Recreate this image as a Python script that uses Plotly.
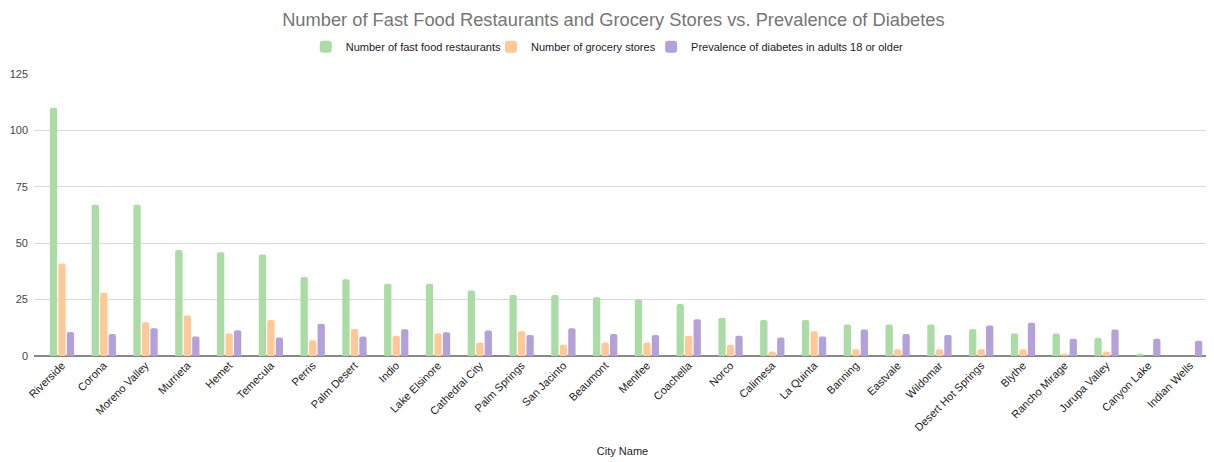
import plotly.graph_objects as go

cities = ["Riverside", "Corona", "Moreno Valley", "Murrieta", "Hemet", "Temecula", "Perris",
          "Palm Desert", "Indio", "Lake Elsinore", "Cathedral City", "Palm Springs", "San Jacinto",
          "Beaumont", "Menifee", "Coachella", "Norco", "Calimesa", "La Quinta", "Banning",
          "Eastvale", "Wildomar", "Desert Hot Springs", "Blythe", "Rancho Mirage", "Jurupa Valley",
          "Canyon Lake", "Indian Wells"]
fast_food = [110, 67, 67, 47, 46, 45, 35, 34, 32, 32, 29, 27, 27, 26, 25, 23, 17, 16, 16, 14,
             14, 14, 12, 10, 10, 8, 1, 0]
grocery = [41, 28, 15, 18, 10, 16, 7, 12, 9, 10, 6, 11, 5, 6, 6, 9, 5, 2, 11, 3,
           3, 3, 3, 3, 1, 2, 0, 0]
diabetes = [10.6, 9.8, 12.3, 8.6, 11.4, 8.2, 14.3, 8.6, 11.9, 10.5, 11.3, 9.3, 12.3, 9.8, 9.3,
            16.3, 9.0, 8.2, 8.6, 11.7, 9.8, 9.3, 13.5, 14.7, 7.7, 11.7, 7.7, 6.8]
y_ticks = [0, 25, 50, 75, 100, 125]

series = [
    ("Number of fast food restaurants", fast_food, "#abdca5", "legend", 0.2309),
    ("Number of grocery stores", grocery, "#ffc897", "legend2", 0.3883),
    ("Prevalence of diabetes in adults 18 or older", diabetes, "#b5a1d9", "legend3", 0.5243),
]

fig = go.Figure()
legend_layouts = {}
for name, vals, color, leg, lx in series:
    fig.add_trace(go.Bar(
        x=cities, y=vals, name=name, legend=leg,
        marker=dict(color=color, line=dict(width=0), cornerradius=2),
        hovertemplate="%{x}: %{y}<extra>" + name + "</extra>",
    ))
    legend_layouts[leg] = dict(
        orientation="h", x=lx, xanchor="left", y=1.097, yanchor="middle",
        font=dict(size=11, color="#222222"), bgcolor="rgba(0,0,0,0)",
    )

fig.update_layout(
    width=1206, height=454,
    margin=dict(l=26, r=3, t=66, b=106),
    paper_bgcolor="white", plot_bgcolor="white",
    font=dict(family="Liberation Sans, Arial, sans-serif", size=11, color="#222222"),
    title=dict(
        text="Number of Fast Food Restaurants and Grocery Stores vs. Prevalence of Diabetes",
        x=0.502, xanchor="center", y=0.975, yanchor="middle",
        font=dict(size=18.3, color="#757575"),
    ),
    barmode="group", bargap=0.39, bargroupgap=0.14,
    showlegend=True,
    **legend_layouts,
)
fig.update_xaxes(
    type="category", range=[-0.67, 27.5], tickangle=-45,
    tickfont=dict(size=11, color="#222222"),
    showgrid=False, showline=False, ticks="",
    title=dict(text="City Name", font=dict(size=11, color="#222222"), standoff=14),
    automargin=False,
)
fig.update_yaxes(
    range=[0, 125], tickvals=y_ticks, ticktext=[str(v) for v in y_ticks],
    showgrid=True, gridcolor="#d9d9d9", gridwidth=1,
    zeroline=True, zerolinecolor="#888888", zerolinewidth=2,
    tickfont=dict(size=11, color="#444444"), ticks="", ticklabelstandoff=5,
    automargin=False,
)
fig.write_html("out.html")
